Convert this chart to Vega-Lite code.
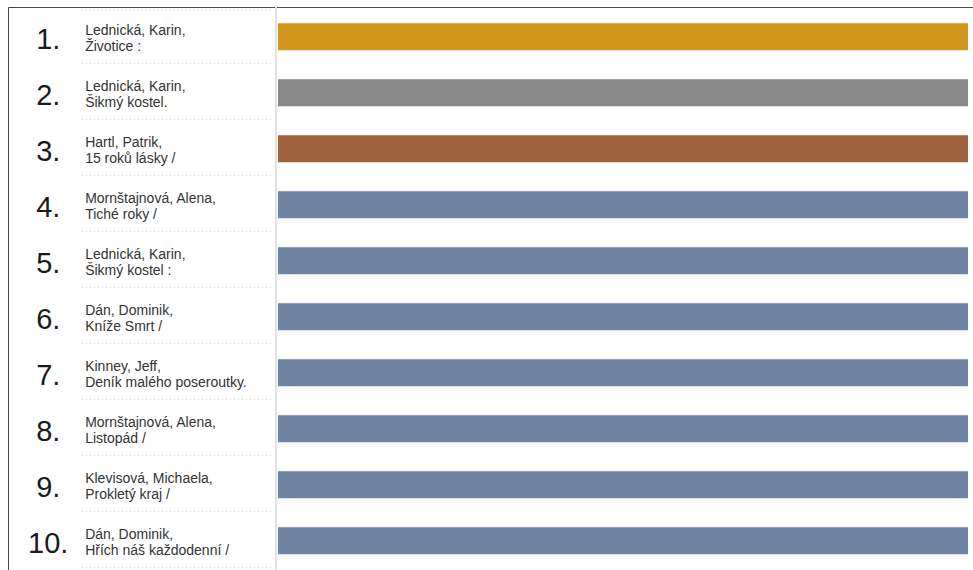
{
  "$schema": "https://vega.github.io/schema/vega-lite/v6.json",
  "width": 975,
  "height": 600,
  "autosize": {"type": "none"},
  "padding": {"left": 8, "top": 7, "right": 0, "bottom": 0},
  "background": "white",
  "data": {
    "values": [
      {"rank": 1, "place": "1.", "author": "Lednická, Karin,", "title": "Životice :", "medal": "gold", "value": 100},
      {"rank": 2, "place": "2.", "author": "Lednická, Karin,", "title": "Šikmý kostel.", "medal": "silver", "value": 100},
      {"rank": 3, "place": "3.", "author": "Hartl, Patrik,", "title": "15 roků lásky /", "medal": "bronze", "value": 100},
      {"rank": 4, "place": "4.", "author": "Mornštajnová, Alena,", "title": "Tiché roky /", "medal": "other", "value": 100},
      {"rank": 5, "place": "5.", "author": "Lednická, Karin,", "title": "Šikmý kostel :", "medal": "other", "value": 100},
      {"rank": 6, "place": "6.", "author": "Dán, Dominik,", "title": "Kníže Smrt /", "medal": "other", "value": 100},
      {"rank": 7, "place": "7.", "author": "Kinney, Jeff,", "title": "Deník malého poseroutky.", "medal": "other", "value": 100},
      {"rank": 8, "place": "8.", "author": "Mornštajnová, Alena,", "title": "Listopád /", "medal": "other", "value": 100},
      {"rank": 9, "place": "9.", "author": "Klevisová, Michaela,", "title": "Prokletý kraj /", "medal": "other", "value": 100},
      {"rank": 10, "place": "10.", "author": "Dán, Dominik,", "title": "Hřích náš každodenní /", "medal": "other", "value": 100}
    ]
  },
  "encoding": {
    "y": {
      "field": "rank",
      "type": "ordinal",
      "axis": null,
      "scale": {"range": [1.7, 561.7], "paddingInner": 0, "paddingOuter": 0}
    }
  },
  "layer": [
    {
      "mark": {"type": "rule", "color": "#e0e0e0", "strokeWidth": 1},
      "encoding": {
        "y": null,
        "x": {"datum": -0.29, "type": "quantitative", "axis": null, "scale": {"domain": [-39.13, 102.17], "nice": false, "zero": false}}
      }
    },
    {
      "mark": {"type": "rule", "color": "#d0d0d0", "strokeDash": [1, 3], "strokeWidth": 1},
      "encoding": {
        "y": {"field": "rank", "type": "ordinal", "bandPosition": 0.98},
        "x": {"datum": -28.4, "type": "quantitative"},
        "x2": {"datum": -0.72}
      }
    },
    {
      "transform": [{"filter": "datum.rank == 1"}],
      "mark": {"type": "rule", "color": "#d0d0d0", "strokeDash": [1, 3], "strokeWidth": 1},
      "encoding": {
        "y": {"field": "rank", "type": "ordinal", "bandPosition": 0.02},
        "x": {"datum": -28.4, "type": "quantitative"},
        "x2": {"datum": -0.72}
      }
    },
    {
      "mark": {"type": "bar", "height": {"band": 0.48}},
      "encoding": {
        "x": {"field": "value", "type": "quantitative"},
        "x2": {"datum": 0},
        "color": {
          "field": "medal",
          "type": "nominal",
          "legend": null,
          "scale": {
            "domain": ["gold", "silver", "bronze", "other"],
            "range": ["#d3971e", "#888888", "#9f613c", "#6d83a0"]
          }
        }
      }
    },
    {
      "mark": {"type": "text", "align": "center", "baseline": "alphabetic", "dy": 12, "fontSize": 29, "font": "Liberation Sans", "color": "#1a1a1a"},
      "encoding": {
        "x": {"datum": -33.3, "type": "quantitative"},
        "text": {"field": "place"}
      }
    },
    {
      "mark": {"type": "text", "align": "left", "baseline": "alphabetic", "dy": -2, "fontSize": 14, "font": "Liberation Sans", "color": "#333333"},
      "encoding": {
        "x": {"datum": -27.95, "type": "quantitative"},
        "text": {"field": "author"}
      }
    },
    {
      "mark": {"type": "text", "align": "left", "baseline": "alphabetic", "dy": 14, "fontSize": 14, "font": "Liberation Sans", "color": "#333333"},
      "encoding": {
        "x": {"datum": -27.95, "type": "quantitative"},
        "text": {"field": "title"}
      }
    }
  ],
  "config": {
    "view": {"stroke": "#4a4a4a", "strokeWidth": 1}
  }
}
